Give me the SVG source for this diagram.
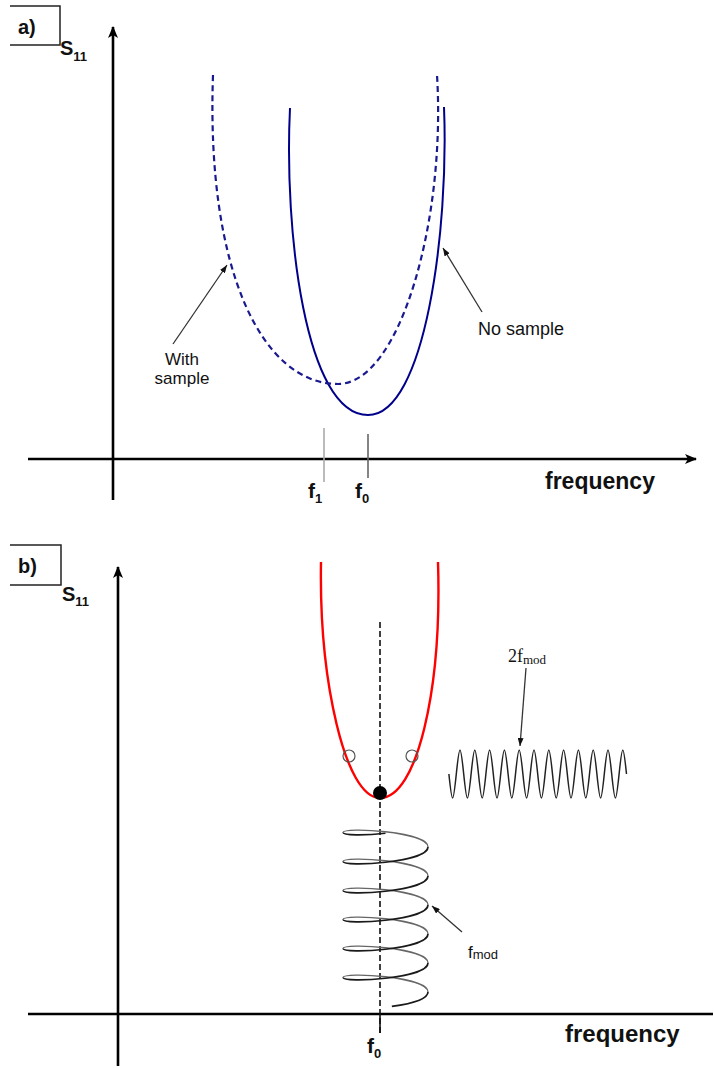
<svg xmlns="http://www.w3.org/2000/svg" width="714" height="1068" viewBox="0 0 714 1068">
<defs>
<marker id="axArrow" markerUnits="userSpaceOnUse" markerWidth="12" markerHeight="10" refX="11" refY="5" orient="auto"><path d="M0,0 L12,5 L0,10 L3,5 z" fill="#000"/></marker>
<marker id="lblArrow" markerUnits="userSpaceOnUse" markerWidth="8" markerHeight="6" refX="8" refY="3" orient="auto"><path d="M0,0 L8,3 L0,6 z" fill="#111"/></marker>
</defs>
<style>
.axis{stroke:#000;stroke-width:2.6;fill:none}
.box{stroke:#222;stroke-width:1.5;fill:none}
.t{font-family:"Liberation Sans",Arial,sans-serif;fill:#111}
.bd{font-weight:bold}
.ptr{stroke:#333;stroke-width:1.3;fill:none;marker-end:url(#lblArrow)}
.solid{stroke:#00008b;stroke-width:2;fill:none}
.dash{stroke:#1a1a90;stroke-width:2.2;fill:none;stroke-dasharray:6 4}
.coil{stroke:#222;stroke-width:1.5;fill:none}
.coil-front{stroke:#1a1a1a;stroke-width:1.7;fill:none}
.coil-back{stroke:#666;stroke-width:1.4;fill:none}
</style>
<rect width="714" height="1068" fill="#fff"/>

<!-- Panel a -->
<g id="panel-a">
  <path class="box" d="M10 6 H60 V45 H10"/>
  <text class="t bd" x="18" y="34" font-size="20">a)</text>
  <text class="t bd" x="60" y="55" font-size="20">S<tspan font-size="13" dy="6">11</tspan></text>
  <g id="axes-a">
    <line class="axis" x1="113" y1="500" x2="113" y2="27" marker-end="url(#axArrow)"/>
    <line class="axis" x1="28" y1="459" x2="696" y2="459" marker-end="url(#axArrow)"/>
  </g>
  <g id="curves-a">
    <path class="solid" d="M290 108 C284 230 305 415 368 415 C425 415 449 230 444 107"/>
    <path class="dash" d="M213 75 C206 270 262 384 338 384 C400 384 446 220 437 75"/>
  </g>
  <line x1="324" y1="428" x2="324" y2="482" stroke="#aaa" stroke-width="1.6"/>
  <line x1="368" y1="434" x2="368" y2="478" stroke="#666" stroke-width="1.6"/>
  <g id="connectors-a">
    <line class="ptr" x1="173" y1="344" x2="227" y2="265"/>
    <line class="ptr" x1="482" y1="312" x2="443" y2="248"/>
  </g>
  <text class="t" x="182" y="365" font-size="17" text-anchor="middle">With</text>
  <text class="t" x="182" y="384" font-size="17" text-anchor="middle">sample</text>
  <text class="t" x="478" y="335" font-size="18">No sample</text>
  <text class="t bd" x="308" y="498" font-size="21">f<tspan font-size="13" dy="5">1</tspan></text>
  <text class="t bd" x="355" y="498" font-size="21">f<tspan font-size="13" dy="5">0</tspan></text>
  <text class="t bd" x="545" y="489" font-size="23">frequency</text>
</g>

<!-- Panel b -->
<g id="panel-b">
  <path class="box" d="M10 545 H61 V585 H10"/>
  <text class="t bd" x="18" y="573" font-size="20">b)</text>
  <text class="t bd" x="62" y="601" font-size="20">S<tspan font-size="13" dy="5">11</tspan></text>
  <g id="axes-b">
    <line class="axis" x1="118" y1="1066" x2="118" y2="567" marker-end="url(#axArrow)"/>
    <line class="axis" x1="28" y1="1014" x2="713" y2="1014"/>
  </g>
  <line x1="380" y1="622" x2="380" y2="1033" stroke="#111" stroke-width="1.6" stroke-dasharray="6 3"/>
  <line x1="380" y1="1014" x2="380" y2="1033" stroke="#111" stroke-width="1.6"/>
  <path id="resonance" d="M321 562 C319 680 345 798 380 798 C417 798 442 690 438 562" stroke="#ff0000" stroke-width="2.4" fill="none"/>
  <circle cx="349" cy="756" r="6" fill="none" stroke="#555" stroke-width="1.2"/>
  <circle cx="412" cy="756" r="6" fill="none" stroke="#555" stroke-width="1.2"/>
  <circle cx="380" cy="793" r="7" fill="#000"/>
  <g id="coil-fmod">
    <path class="coil-back" d="M343 832.5 C343 826.67 428 831.5 428 847
      M343 861.5 C343 855.67 428 860.5 428 876
      M343 890.5 C343 884.67 428 889.5 428 905
      M343 919.5 C343 913.67 428 918.5 428 934
      M343 948.5 C343 942.67 428 947.5 428 963
      M343 977.5 C343 971.67 428 976.5 428 992"/>
    <path class="coil-front" d="M385.5 833.25 C364.25 835.67 343 835.42 343 832.5
      M428 847 C428 862.5 343 867.33 343 861.5
      M428 876 C428 891.5 343 896.33 343 890.5
      M428 905 C428 920.5 343 925.33 343 919.5
      M428 934 C428 949.5 343 954.33 343 948.5
      M428 963 C428 978.5 343 983.33 343 977.5
      M428 992 C428 998.98 410.79 1003.79 391.85 1006.45"/>
  </g>
  <path id="coil-2fmod" class="coil" d="M448.9 774 C450.13 786 451.37 798 452.6 798
    C455.07 798 457.53 750 460 750
    S464.93 798 467.4 798 S472.33 750 474.8 750
    S479.73 798 482.2 798 S487.13 750 489.6 750
    S494.53 798 497 798 S501.93 750 504.4 750
    S509.33 798 511.8 798 S516.73 750 519.2 750
    S524.13 798 526.6 798 S531.53 750 534 750
    S538.93 798 541.4 798 S546.33 750 548.8 750
    S553.73 798 556.2 798 S561.13 750 563.6 750
    S568.53 798 571 798 S575.93 750 578.4 750
    S583.33 798 585.8 798 S590.73 750 593.2 750
    S598.13 798 600.6 798 S605.53 750 608 750
    S612.93 798 615.4 798 S620.33 750 622.8 750
    C624.03 750 625.27 762 626.5 774"/>
  <g id="connectors-b">
    <line class="ptr" x1="526" y1="668" x2="520" y2="746"/>
    <line class="ptr" x1="462" y1="932" x2="432" y2="906"/>
  </g>
  <text x="508" y="662" font-family="'Liberation Serif','Times New Roman',serif" font-size="18" fill="#111">2f<tspan font-size="13" dy="2">mod</tspan></text>
  <text class="t" x="468" y="958" font-size="17">f<tspan font-size="13" dy="1">mod</tspan></text>
  <text class="t bd" x="367" y="1053" font-size="21">f<tspan font-size="13" dy="5">0</tspan></text>
  <text class="t bd" x="565" y="1042" font-size="24">frequency</text>
</g>
</svg>
